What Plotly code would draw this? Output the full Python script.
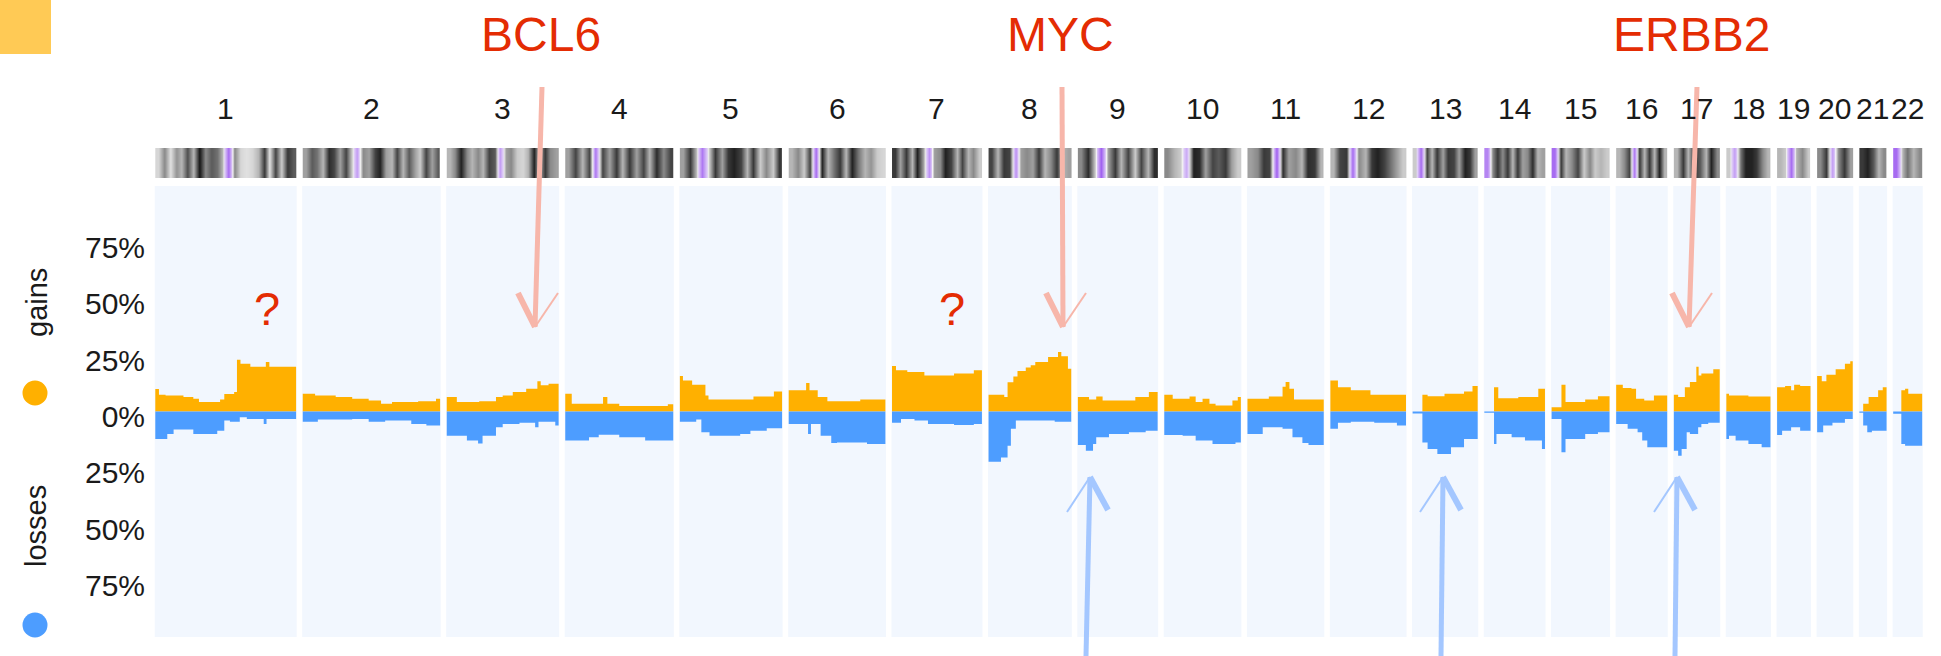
import plotly.graph_objects as go

W, H = 1941, 656

# ---------------- data ----------------
CHROMS = [str(i) for i in range(1, 23)]
CHROM_LEN_MB = [249.25, 243.20, 198.02, 191.15, 180.92, 171.12, 159.14, 146.36,
                141.21, 135.53, 135.01, 133.85, 115.17, 107.35, 102.53, 90.35,
                81.20, 78.08, 59.13, 63.03, 48.13, 51.30]

# gains: segment start (fraction of chromosome) and frequency (%)
GAIN_BREAKS = [
    [0, 0.026, 0.073, 0.2, 0.27, 0.31, 0.46, 0.49, 0.56, 0.58, 0.605, 0.675, 0.785, 0.81],
    [0, 0.09, 0.24, 0.36, 0.48, 0.57, 0.65, 0.84, 0.97],
    [0, 0.09, 0.29, 0.44, 0.5, 0.59, 0.71, 0.81, 0.84, 0.91],
    [0, 0.06, 0.35, 0.39, 0.5, 0.95],
    [0, 0.03, 0.12, 0.25, 0.28, 0.72, 0.92],
    [0, 0.18, 0.215, 0.3, 0.4, 0.74],
    [0, 0.044, 0.17, 0.36, 0.69, 0.91],
    [0, 0.19, 0.23, 0.3, 0.35, 0.45, 0.51, 0.565, 0.72, 0.84, 0.88, 0.96],
    [0, 0.14, 0.23, 0.31, 0.72, 0.89],
    [0, 0.11, 0.33, 0.41, 0.5, 0.59, 0.67, 0.89, 0.96],
    [0, 0.28, 0.46, 0.5, 0.55, 0.61],
    [0, 0.1, 0.27, 0.53],
    [0, 0.15, 0.23, 0.49, 0.79, 0.92],
    [0, 0.16, 0.23, 0.56, 0.89],
    [0, 0.17, 0.24, 0.58, 0.8],
    [0, 0.13, 0.3, 0.39, 0.55, 0.74],
    [0, 0.094, 0.24, 0.35, 0.49, 0.54, 0.6, 0.86],
    [0, 0.06, 0.5],
    [0, 0.24, 0.42, 0.51, 0.69],
    [0, 0.13, 0.26, 0.52, 0.78, 0.93],
    [0, 0.14, 0.34, 0.69, 0.86],
    [0, 0.28, 0.41, 0.52],
]
GAIN_PCT = [
    [10, 7.4, 7.1, 6.4, 5.6, 4.2, 5.3, 7.8, 8.6, 23, 21.2, 19.8, 22, 19.8],
    [7.9, 7.1, 6.4, 5.6, 4.9, 3.4, 4.2, 4.5, 5.6],
    [6.4, 4.2, 4.5, 6.4, 7.1, 8.6, 10.1, 13.4, 11.6, 12.3],
    [7.9, 3.4, 6.4, 3.4, 2.4, 3.2],
    [15.7, 13.8, 11.9, 7.1, 5.3, 6.7, 8.9],
    [9.4, 12.6, 9.4, 6.4, 4.5, 5.3],
    [20.2, 18.3, 17.5, 16, 16.8, 18.3],
    [7.4, 6.4, 13, 15.5, 18, 19.5, 20.5, 22, 24.2, 26.4, 24.5, 19],
    [6.4, 5.3, 6.7, 4.9, 6.4, 8.6],
    [7.4, 5.6, 6.7, 4.2, 5.6, 3.4, 2.7, 4.9, 6.4],
    [5.6, 6.7, 11, 13.1, 10.1, 5.3],
    [13.8, 10.8, 9.4, 7.4],
    [0, 7.4, 6.8, 7.9, 8.9, 11.3],
    [0, 10.8, 5.9, 6.4, 10.1],
    [1.9, 11.9, 4.2, 5.3, 6.8],
    [11.9, 10.4, 10.1, 5.6, 4.9, 7.1],
    [7.4, 6.4, 10.8, 13.1, 19.8, 16, 16.8, 18.7],
    [7.9, 7.1, 6.7],
    [10.8, 11.3, 9.4, 11.9, 11.3],
    [15.7, 13.4, 16.3, 18.7, 21.2, 22.3],
    [0, 3.4, 6.4, 9.4, 10.8],
    [0, 9.4, 10.1, 7.9],
]

# losses: segment start (fraction of chromosome) and frequency (%)
LOSS_BREAKS = [
    [0, 0.085, 0.13, 0.27, 0.44, 0.49, 0.53, 0.6, 0.65, 0.77, 0.79],
    [0, 0.11, 0.36, 0.48, 0.6, 0.79, 0.9],
    [0, 0.18, 0.28, 0.32, 0.44, 0.5, 0.65, 0.79, 0.82, 0.97],
    [0, 0.22, 0.31, 0.5, 0.74],
    [0, 0.16, 0.21, 0.29, 0.59, 0.69, 0.85],
    [0, 0.2, 0.23, 0.33, 0.44, 0.5, 0.81],
    [0, 0.1, 0.25, 0.4, 0.69, 0.91],
    [0, 0.15, 0.23, 0.27, 0.33, 0.8],
    [0, 0.1, 0.19, 0.23, 0.39, 0.64, 0.85],
    [0, 0.24, 0.41, 0.63, 0.93],
    [0, 0.2, 0.46, 0.59, 0.72, 0.8],
    [0, 0.1, 0.27, 0.58, 0.88],
    [0, 0.15, 0.23, 0.38, 0.59, 0.79],
    [0, 0.16, 0.2, 0.45, 0.67, 0.95],
    [0, 0.17, 0.24, 0.58, 0.8],
    [0, 0.225, 0.42, 0.51, 0.61],
    [0, 0.094, 0.17, 0.28, 0.35, 0.53, 0.6, 0.75],
    [0, 0.06, 0.21, 0.5, 0.8],
    [0, 0.15, 0.42, 0.69],
    [0, 0.17, 0.43, 0.78],
    [0, 0.14, 0.29, 0.46],
    [0, 0.28, 0.41],
]
LOSS_PCT = [
    [12.2, 10, 8, 10, 8.5, 4, 4.5, 2.5, 3.3, 5.5, 3.3],
    [4.5, 3.6, 3.3, 4.5, 4.0, 5.5, 6.2],
    [10.7, 12.9, 14.2, 10.7, 7.0, 5.5, 5.0, 7.0, 4.5, 6.2],
    [12.9, 11.4, 10.3, 11.4, 12.9],
    [4.5, 3.6, 9.2, 10.7, 10, 8.5, 7.4],
    [5.5, 10, 5.5, 10.7, 14, 13.7, 14.4],
    [5, 3.3, 4, 5.5, 6, 5.5],
    [22.3, 20.4, 15.2, 7.7, 4, 4.5],
    [14.9, 17.4, 14.4, 11.4, 10, 9.2, 8.5],
    [10.4, 10.7, 12.9, 14.4, 13.7],
    [10, 7, 7.7, 11.4, 14, 14.9],
    [7.7, 5, 4.5, 5.0, 6.2],
    [0.9, 13.7, 16.6, 18.9, 15.9, 12.2],
    [0.5, 14.4, 10, 11.4, 12.9, 16.6],
    [3.3, 18.1, 12.2, 10, 9.2],
    [5.5, 7.7, 9.2, 12.9, 15.9],
    [17.4, 19.6, 16.6, 9.2, 10, 7, 5.5, 5],
    [12.2, 10.7, 12.9, 14.4, 15.9],
    [10.4, 8.5, 7, 8.5],
    [9.2, 6.2, 5, 3.3],
    [0.6, 6.2, 9.2, 8.5],
    [1, 14.4, 15.2],
]

# ideogram band staining (0 white .. 1 black, negative = purple stalk/centromere)
BANDS = [
    [0.15, 0.5, 0.1, 0.45, 0.3, 0.75, 0.3, 1.0, 0.5, 0.7, 0.6, 0.3, -0.9, 0.5, 0.15, 0.1, 0.15, 0.3, 0.85, 0.1, 0.8, 0.2, 0.85, 0.7],
    [0.4, 0.7, 0.6, 0.3, 0.9, 0.8, 0.4, 0.8, 0.2, -0.5, 0.5, 0.4, 0.8, 0.95, 0.4, 0.3, 0.8, 0.3, 0.7, 0.4, 0.2, 0.8, 0.4, 0.7],
    [0.3, 0.5, 0.95, 0.5, 0.3, 0.5, 0.3, 0.8, 0.7, -0.5, 0.4, 0.5, 0.2, 0.15, 0.3, 0.95, 0.3, 0.85, 0.5, 0.4],
    [0.4, 0.8, 0.3, 0.8, -0.8, 0.8, 0.4, 0.85, 0.3, 0.85, 0.4, 0.8, 0.3, 0.9, 0.5, 0.8],
    [0.4, 0.85, 0.3, -0.8, 0.2, 0.85, 0.4, 0.85, 0.95, 0.8, 0.3, 0.85, 0.2, 0.5, 0.2, 0.85],
    [0.3, 0.5, 0.2, 0.8, -0.9, 0.95, 0.3, 0.6, 0.85, 0.3, 0.95, 0.6, 0.3, 0.45, 0.2, 0.15],
    [0.85, 0.4, 0.85, 0.3, 0.95, 0.4, -0.6, 0.4, 0.5, 0.95, 0.8, 0.3, 0.8, 0.3, 0.5, 0.2],
    [0.8, 0.3, 0.85, 0.8, -0.6, 0.4, 0.5, 0.4, 0.85, 0.3, 0.5, 0.85, 0.3, 0.4],
    [0.5, 0.9, 0.2, -1, 0.4, 0.85, 0.3, 0.8, 0.2, 0.8, 0.3, 0.9],
    [0.5, 0.3, 0.2, -0.4, 0.95, 0.9, 0.4, 0.8, 0.7, 0.85, 0.4, 0.2],
    [0.4, 0.5, 0.85, 0.8, -1, 0.9, 0.4, 0.5, 0.3, 0.9, 0.85, 0.3],
    [0.3, 0.8, 0.85, -0.9, 0.5, 0.3, 0.85, 0.95, 0.8, 0.6, 0.4, 0.2],
    [0.2, -0.9, 0.8, 0.3, 0.85, 0.4, 0.85, 0.8, 0.4, 0.95, 0.85, 0.4],
    [-0.7, 0.5, 0.85, 0.5, 0.85, 0.3, 0.85, 0.4, 0.5, 0.9, 0.3, 0.4],
    [-0.9, 0.85, 0.3, 0.5, 0.8, 0.2, 0.5, 0.2, 0.3, 0.2],
    [0.3, 0.5, 0.8, -0.8, 0.85, 0.3, 0.85, 0.3, 0.95, 0.3],
    [0.3, 0.85, 0.3, 0.85, 0.7, 0.3, 0.95, 0.5],
    [0.2, -0.5, 0.6, 0.95, 0.95, 0.85, 0.5, 0.3],
    [0.3, 0.2, -0.9, 0.3, 0.5, 0.2],
    [0.5, 0.85, -0.5, 0.5, 0.85, 0.4],
    [0.85, 0.95, 0.7, 0.3, 0.5],
    [-0.9, 0.3, 0.6, 0.3, 0.5],
]

TICK_VALS = [75, 50, 25, 0, -25, -50, -75]
TICK_TEXT = ["75%", "50%", "25%", "0%", "25%", "50%", "75%"]

GENE_LABELS = ["BCL6", "MYC", "ERBB2"]

# ---------------- style / layout ----------------
FONT = "Liberation Sans, Arial, Helvetica, sans-serif"
GAIN_COLOR = "#FFB000"
LOSS_COLOR = "#4D9DFF"
PANEL_BG = "#F2F7FE"
RED_TXT = "#E42C03"
RED_ARROW = "#F7B6AA"
BLUE_ARROW = "#A4C7FF"

GAP_MB = 11.75
PAD_MB = 1.0
PX_PER_MB = 0.5649
PLOT_L, PLOT_R = 150, 1931
DATA0_PX = 155.3


def px(x):
    return x / W


def py(y):
    return 1 - y / H


offsets = []
acc = 0.0
for L in CHROM_LEN_MB:
    offsets.append(acc)
    acc += L + GAP_MB

x_start = -(DATA0_PX - PLOT_L) / PX_PER_MB
x_end = x_start + (PLOT_R - PLOT_L) / PX_PER_MB

fig = go.Figure()
shapes = []
annotations = []

for i, L in enumerate(CHROM_LEN_MB):
    off = offsets[i]
    # panel background
    shapes.append(dict(type="rect", xref="x", yref="y", x0=off - PAD_MB, x1=off + L + PAD_MB,
                       y0=-100, y1=100, fillcolor=PANEL_BG, line=dict(width=0), layer="below"))
    # gains
    gx = [off + b * L for b in GAIN_BREAKS[i]] + [off + L]
    gy = list(GAIN_PCT[i]) + [GAIN_PCT[i][-1]]
    fig.add_trace(go.Scatter(x=gx, y=gy, mode="lines", line=dict(shape="hv", width=0, color=GAIN_COLOR),
                             fill="tozeroy", fillcolor=GAIN_COLOR, hoverinfo="skip", showlegend=False))
    # losses
    lx = [off + b * L for b in LOSS_BREAKS[i]] + [off + L]
    ly = [-v for v in LOSS_PCT[i]] + [-LOSS_PCT[i][-1]]
    fig.add_trace(go.Scatter(x=lx, y=ly, mode="lines", line=dict(shape="hv", width=0, color=LOSS_COLOR),
                             fill="tozeroy", fillcolor=LOSS_COLOR, hoverinfo="skip", showlegend=False))
    # ideogram
    n = len(BANDS[i])
    bx = [off + L * (k + 0.5) / n for k in range(n)]
    fig.add_trace(go.Heatmap(x=bx, y=[0.25, 0.75], z=[BANDS[i], BANDS[i]], xaxis="x", yaxis="y2",
                             zmin=-1, zmax=1, showscale=False, hoverinfo="skip", zsmooth="best",
                             colorscale=[[0, "#a060f0"], [0.499, "#e6daf8"], [0.5, "#f7f7f7"],
                                         [0.75, "#8a8a8a"], [1, "#161616"]]))
    # chromosome label
    annotations.append(dict(x=off + L / 2, y=py(108), xref="x", yref="paper", text=CHROMS[i],
                            showarrow=False, font=dict(size=30, color="#1a1a1a", family=FONT),
                            xanchor="center", yanchor="middle"))

# orange square top-left
shapes.append(dict(type="rect", xref="paper", yref="paper", x0=px(0), x1=px(51), y0=py(0), y1=py(54),
                   fillcolor="#FFCA55", line=dict(width=0)))
# legend dots
for cy, col in [(393, GAIN_COLOR), (625, LOSS_COLOR)]:
    shapes.append(dict(type="circle", xref="paper", yref="paper", x0=px(22.5), x1=px(47.5),
                       y0=py(cy - 12.5), y1=py(cy + 12.5), fillcolor=col, line=dict(width=0)))


def seg(x0, y0, x1, y1, color, width):
    shapes.append(dict(type="line", xref="paper", yref="paper", x0=px(x0), y0=py(y0), x1=px(x1), y1=py(y1),
                       line=dict(color=color, width=width)))


# red arrows (pointing down to gains)
for (xt, yt, xb, yb) in [(542, 87, 535, 327), (1062, 87, 1063, 327), (1697, 87, 1689, 327)]:
    seg(xt, yt, xb, yb, RED_ARROW, 5)
    seg(xb - 17, yb - 34, xb, yb, RED_ARROW, 6)
    seg(xb + 23, yb - 34, xb, yb, RED_ARROW, 2)

# blue arrows (pointing up to losses)
for (xb, yb, xt, yt) in [(1086, 656, 1090, 477), (1441, 656, 1443, 477), (1675, 656, 1677, 477)]:
    seg(xb, yb, xt, yt, BLUE_ARROW, 5)
    seg(xt - 23, yt + 35, xt, yt, BLUE_ARROW, 2)
    seg(xt + 18, yt + 33, xt, yt, BLUE_ARROW, 6)

# gene labels
for txt, cx in zip(GENE_LABELS, [541, 1060, 1691]):
    annotations.append(dict(x=px(cx), y=py(35), xref="paper", yref="paper", text=txt, showarrow=False,
                            font=dict(size=48, color=RED_TXT, family=FONT), xanchor="center", yanchor="middle"))
# question marks
for cx in [267, 952]:
    annotations.append(dict(x=px(cx), y=py(309), xref="paper", yref="paper", text="?", showarrow=False,
                            font=dict(size=47, color=RED_TXT, family=FONT), xanchor="center", yanchor="middle"))
# side legend words
annotations.append(dict(x=px(37), y=py(303), xref="paper", yref="paper", text="gains", textangle=-90,
                        showarrow=False, font=dict(size=29, color="#1a1a1a", family=FONT),
                        xanchor="center", yanchor="middle"))
annotations.append(dict(x=px(36), y=py(526), xref="paper", yref="paper", text="losses", textangle=-90,
                        showarrow=False, font=dict(size=29, color="#1a1a1a", family=FONT),
                        xanchor="center", yanchor="middle"))

fig.update_layout(
    width=W, height=H,
    margin=dict(l=0, r=0, t=0, b=0),
    paper_bgcolor="white", plot_bgcolor="white",
    font=dict(family=FONT),
    showlegend=False,
    shapes=shapes,
    annotations=annotations,
    xaxis=dict(domain=[px(PLOT_L), px(PLOT_R)], range=[x_start, x_end], visible=False, fixedrange=True),
    yaxis=dict(domain=[py(637), py(186)], range=[-100, 100], showgrid=False, zeroline=False,
               showline=False, ticks="", tickvals=TICK_VALS, ticktext=TICK_TEXT,
               tickfont=dict(size=30, color="#1a1a1a", family=FONT), ticklabelshift=5,
               ticklabelstandoff=4, fixedrange=True),
    yaxis2=dict(domain=[py(178), py(148)], range=[0, 1], visible=False, anchor="x", fixedrange=True),
)

fig.write_html("out.html", config={"displayModeBar": False})
with open("out.html", "r", encoding="utf-8") as f:
    html = f.read()
html = html.replace("<head>", "<head><style>html,body{margin:0;padding:0;overflow:hidden;}</style>", 1)
with open("out.html", "w", encoding="utf-8") as f:
    f.write(html)
